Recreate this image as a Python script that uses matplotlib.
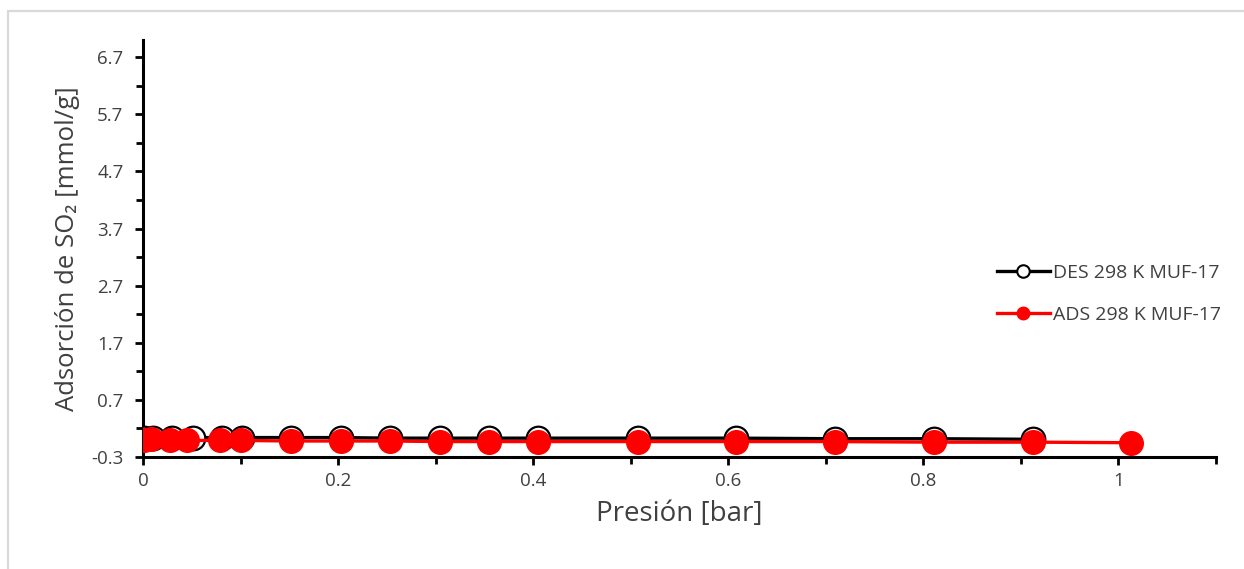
import matplotlib
matplotlib.use("Agg")
import matplotlib.pyplot as plt
from matplotlib.lines import Line2D
from matplotlib.patches import Rectangle
from matplotlib.ticker import MultipleLocator, FixedLocator, FuncFormatter
import numpy as np

plt.rcParams['font.family'] = ['Open Sans', 'DejaVu Sans']

# Desorption branch (bar, mmol/g)
des_p = [0.001, 0.010, 0.030, 0.051, 0.081, 0.101, 0.152, 0.203, 0.253,
         0.304, 0.355, 0.405, 0.507, 0.608, 0.709, 0.811, 0.912]
des_q = [0.04, 0.04, 0.04, 0.04, 0.04, 0.04, 0.04, 0.04, 0.03,
         0.03, 0.03, 0.03, 0.03, 0.03, 0.02, 0.02, 0.01]

# Adsorption branch (bar, mmol/g)
ads_p = [0.001, 0.008, 0.028, 0.045, 0.079, 0.100, 0.152, 0.203, 0.253,
         0.304, 0.355, 0.405, 0.507, 0.608, 0.709, 0.811, 0.912, 1.013]
ads_q = [0.00, 0.01, 0.00, -0.01, -0.01, -0.01, -0.02, -0.02, -0.02,
         -0.03, -0.03, -0.03, -0.03, -0.03, -0.03, -0.04, -0.04, -0.05]

labels = ["DES 298 K MUF-17", "ADS 298 K MUF-17"]
x_ticks = [0, 0.2, 0.4, 0.6, 0.8, 1.0]
y_ticks = [-0.3, 0.7, 1.7, 2.7, 3.7, 4.7, 5.7, 6.7]

W, H, DPI = 1244, 569, 100
fig = plt.figure(figsize=(W / DPI, H / DPI), dpi=DPI)
fig.patch.set_facecolor('white')

# chart-area frame
fig.patches.append(Rectangle((8 / W, -0.05), 1.2, 1 - 11 / H + 0.05,
                             transform=fig.transFigure, fill=False,
                             edgecolor='#d9d9d9', linewidth=1.6))

ax = fig.add_axes([143 / W, 1 - 457 / H, (1216 - 143) / W, (457 - 40) / H])

ax.plot(des_p, des_q, color='black', linewidth=2.4, marker='o',
        markersize=17, markerfacecolor='white', markeredgecolor='black',
        markeredgewidth=1.6, zorder=3)
ax.plot(ads_p, ads_q, color='#ff0000', linewidth=2.4, marker='o',
        markersize=17, markerfacecolor='#ff0000', markeredgecolor='#ff0000',
        markeredgewidth=1.0, zorder=4)

ax.set_xlim(0, 1.1)
ax.set_ylim(-0.3, 7.0)

for s in ['top', 'right']:
    ax.spines[s].set_visible(False)
for s in ['left', 'bottom']:
    ax.spines[s].set_linewidth(2.2)

ax.xaxis.set_major_locator(FixedLocator(x_ticks))
ax.xaxis.set_minor_locator(MultipleLocator(0.1))
ax.yaxis.set_major_locator(FixedLocator(y_ticks))
ax.yaxis.set_minor_locator(FixedLocator(np.array(y_ticks[:-1]) + 0.5))
ax.xaxis.set_major_formatter(FuncFormatter(lambda v, p: f"{v:g}"))
ax.yaxis.set_major_formatter(FuncFormatter(lambda v, p: f"{v:.1f}"))

ax.tick_params(axis='both', which='both', direction='out', width=2.0,
               color='black', labelsize=13.5, labelcolor='#404040')
ax.tick_params(axis='both', which='major', length=6)
ax.tick_params(axis='both', which='minor', length=5)
ax.tick_params(axis='y', which='major', pad=8)
ax.tick_params(axis='x', which='major', pad=5)

ax.set_xlabel("Presión [bar]", fontsize=20, color='#404040', labelpad=7)
ax.set_ylabel("Adsorción de SO₂ [mmol/g]", fontsize=18.5, color='#404040',
              labelpad=8)

handles = [
    Line2D([], [], color='black', linewidth=2.4, marker='o', markersize=9,
           markerfacecolor='white', markeredgecolor='black',
           markeredgewidth=1.5),
    Line2D([], [], color='#ff0000', linewidth=2.4, marker='o', markersize=9,
           markerfacecolor='#ff0000', markeredgecolor='#ff0000'),
]
leg = fig.legend(handles, labels, loc='center left',
                 bbox_to_anchor=(979 / W, 1 - 294 / H), frameon=False,
                 fontsize=14, handlelength=2.75, handletextpad=0.15,
                 labelspacing=1.26)
for t in leg.get_texts():
    t.set_color('#404040')

fig.savefig("out.png", dpi=DPI, facecolor='white')
